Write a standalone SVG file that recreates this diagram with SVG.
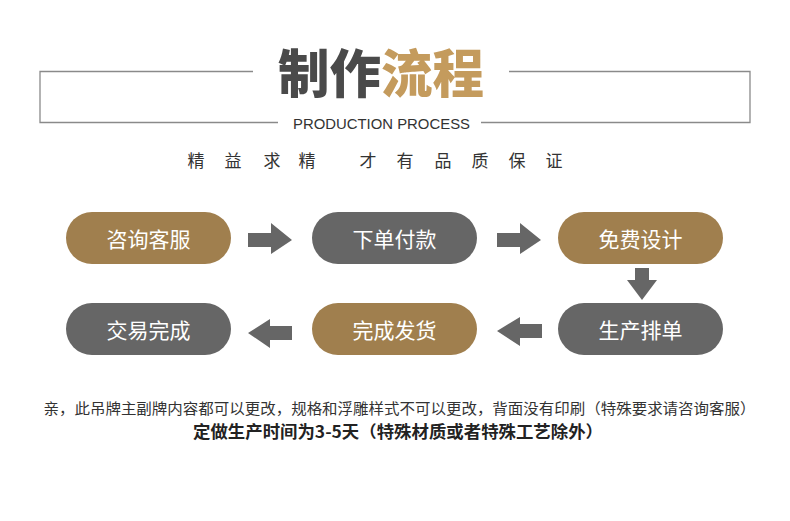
<svg xmlns="http://www.w3.org/2000/svg" width="790" height="521" viewBox="0 0 790 521">
<style>
.line{stroke:#8a8a8a;stroke-width:1.3;fill:none}
.gold{fill:#a07f4e}
.gray{fill:#666666}
.arrow{fill:#666666}
.pt{font-family:"Noto Sans CJK SC","Noto Sans",sans-serif;font-size:21px;fill:#ffffff;text-anchor:middle}
.cjk{font-family:"Noto Sans CJK SC",sans-serif;text-spacing-trim:space-all}
</style>
<rect width="790" height="521" fill="#ffffff"/>
<g id="header">
<polyline class="line" points="253,71.5 40,71.5 40,122.5 278,122.5"/>
<polyline class="line" points="509,71.5 750,71.5 750,122.5 481,122.5"/>
<text x="381" y="93" text-anchor="middle" font-family="Noto Sans CJK SC,sans-serif" font-weight="900" font-size="52" textLength="206" lengthAdjust="spacingAndGlyphs"><tspan fill="#4a4a4a">制作</tspan><tspan fill="#c49b5d">流程</tspan></text>
<text x="381.5" y="129" text-anchor="middle" font-family="Liberation Sans,Arial,sans-serif" font-size="15.5" fill="#333333" textLength="177" lengthAdjust="spacingAndGlyphs">PRODUCTION PROCESS</text>
<text class="cjk" x="196 233 272 307 368 405 443 480 517 554" y="167" text-anchor="middle" font-size="17" fill="#333333">精益求精才有品质保证</text>
</g>
<g id="connectors">
<polygon class="arrow" points="248,233 271,233 271,223 292,240 271,254 271,247 248,247"/>
<polygon class="arrow" points="497,233 520,233 520,223 541,240 520,254 520,247 497,247"/>
<polygon class="arrow" points="635,268 649,268 649,280 657,280 642,300 627,280 635,280"/>
<polygon class="arrow" points="542,324 520,324 520,317 497,331 520,346 520,338 542,338"/>
<polygon class="arrow" points="292,326 270,326 270,319 248,333 270,348 270,340 292,340"/>
</g>
<g id="n1"><rect class="gold" x="66" y="212" width="165" height="52" rx="26"/><text class="pt" x="148.5" y="246.5">咨询客服</text></g>
<g id="n2"><rect class="gray" x="312" y="212" width="165" height="52" rx="26"/><text class="pt" x="394.5" y="246.5">下单付款</text></g>
<g id="n3"><rect class="gold" x="558" y="212" width="165" height="52" rx="26"/><text class="pt" x="640.5" y="246.5">免费设计</text></g>
<g id="n4"><rect class="gray" x="558" y="303" width="165" height="52" rx="26"/><text class="pt" x="640.5" y="337.5">生产排单</text></g>
<g id="n5"><rect class="gold" x="312" y="303" width="165" height="52" rx="26"/><text class="pt" x="394.5" y="337.5">完成发货</text></g>
<g id="n6"><rect class="gray" x="66" y="303" width="165" height="52" rx="26"/><text class="pt" x="148.5" y="337.5">交易完成</text></g>
<g id="notes">
<text class="cjk" x="399.5" y="414" text-anchor="middle" font-size="15" fill="#333333" textLength="712" lengthAdjust="spacingAndGlyphs">亲，此吊牌主副牌内容都可以更改，规格和浮雕样式不可以更改，背面没有印刷（特殊要求请咨询客服）</text>
<text class="cjk" x="398" y="438" text-anchor="middle" font-size="16.5" font-weight="bold" fill="#222222" textLength="410" lengthAdjust="spacingAndGlyphs">定做生产时间为3-5天（特殊材质或者特殊工艺除外）</text>
</g>
</svg>
